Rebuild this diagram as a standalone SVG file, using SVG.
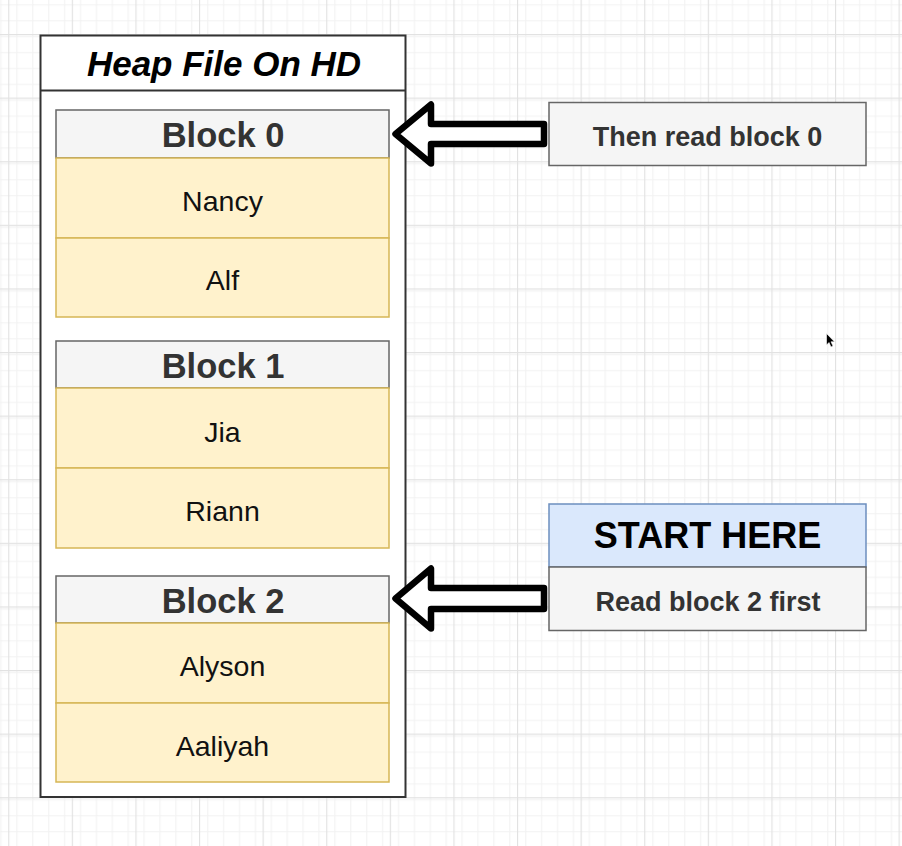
<svg xmlns="http://www.w3.org/2000/svg" width="902" height="846" viewBox="0 0 902 846">
  <defs>
    <pattern id="minor" patternUnits="userSpaceOnUse" x="8.2" y="34" width="15.9" height="15.9">
      <path d="M0 0.5 H15.9 M0.5 0 V15.9" fill="none" stroke="#f2f2f2" stroke-width="1.2"/>
    </pattern>
    <pattern id="major" patternUnits="userSpaceOnUse" x="8.2" y="34" width="63.6" height="63.6">
      <rect width="63.6" height="63.6" fill="url(#minor)"/>
      <path d="M0 0.5 H63.6 M0.5 0 V63.6" fill="none" stroke="#e2e2e2" stroke-width="1.3"/>
    </pattern>
  </defs>
  <style>
    .hdr { fill: #f5f5f5; stroke: #666666; stroke-width: 1.5; }
    .row { fill: #fff2cc; stroke: #d6b656; stroke-width: 1.5; }
    .hdrtxt { font-family: "Liberation Sans", Arial, sans-serif; font-weight: bold; font-size: 34.5px; fill: #333333; text-anchor: middle; }
    .rowtxt { font-family: "Liberation Sans", Arial, sans-serif; font-size: 28.5px; fill: #111111; text-anchor: middle; }
    .note { font-family: "Liberation Sans", Arial, sans-serif; font-weight: bold; font-size: 27px; fill: #333333; text-anchor: middle; }
    .arrow { fill: #ffffff; stroke: #000000; stroke-width: 6.5; stroke-linejoin: round; }
  </style>

  <rect width="902" height="846" fill="#ffffff"/>
  <rect width="902" height="846" fill="url(#major)"/>

  <g id="heap-file">
    <rect x="40.5" y="35.5" width="365" height="761.5" fill="#ffffff" stroke="#333333" stroke-width="2"/>
    <line x1="40.5" y1="90.5" x2="405.5" y2="90.5" stroke="#333333" stroke-width="2"/>
    <text x="224" y="75.5" font-family="'Liberation Sans', Arial, sans-serif" font-weight="bold" font-style="italic" font-size="35" fill="#000000" text-anchor="middle">Heap File On HD</text>
  </g>

  <g id="block-0">
    <rect class="hdr" x="56" y="110" width="333" height="48"/>
    <text class="hdrtxt" x="223" y="147">Block 0</text>
    <rect class="row" x="56" y="158" width="333" height="80"/>
    <text class="rowtxt" x="222.5" y="211">Nancy</text>
    <rect class="row" x="56" y="238" width="333" height="79"/>
    <text class="rowtxt" x="222.5" y="290">Alf</text>
  </g>

  <g id="block-1">
    <rect class="hdr" x="56" y="341" width="333" height="47"/>
    <text class="hdrtxt" x="223" y="377.5">Block 1</text>
    <rect class="row" x="56" y="388" width="333" height="80"/>
    <text class="rowtxt" x="222.5" y="441.5">Jia</text>
    <rect class="row" x="56" y="468" width="333" height="80"/>
    <text class="rowtxt" x="222.5" y="521">Riann</text>
  </g>

  <g id="block-2">
    <rect class="hdr" x="56" y="576" width="333" height="47"/>
    <text class="hdrtxt" x="223" y="612.5">Block 2</text>
    <rect class="row" x="56" y="623" width="333" height="80"/>
    <text class="rowtxt" x="222.5" y="676">Alyson</text>
    <rect class="row" x="56" y="703" width="333" height="79"/>
    <text class="rowtxt" x="222.5" y="755.5">Aaliyah</text>
  </g>

  <g id="then-read">
    <rect class="hdr" x="549" y="102.5" width="317" height="63"/>
    <text class="note" x="707.5" y="145.5">Then read block 0</text>
  </g>

  <g id="start-here">
    <rect x="549" y="504" width="317" height="63" fill="#dae8fc" stroke="#6c8ebf" stroke-width="1.5"/>
    <text x="707.5" y="547.5" font-family="'Liberation Sans', Arial, sans-serif" font-weight="bold" font-size="36" fill="#000000" text-anchor="middle">START HERE</text>
    <rect class="hdr" x="549" y="567" width="317" height="63.5"/>
    <text class="note" x="708" y="610.5">Read block 2 first</text>
  </g>

  <g id="connectors">
    <path class="arrow" d="M395.5 134 L431 104.5 L431 124 L544 124 L544 144 L431 144 L431 163.5 Z"/>
    <path class="arrow" d="M395.5 598.5 L431 568.5 L431 588 L544 588 L544 609 L431 609 L431 628.5 Z"/>
  </g>

  <polygon points="826.5,333.5 826.5,345 829,342.5 831,347 833,346 831,341.8 834.5,341.8" fill="#000000" stroke="#ffffff" stroke-width="0.6"/>
</svg>
